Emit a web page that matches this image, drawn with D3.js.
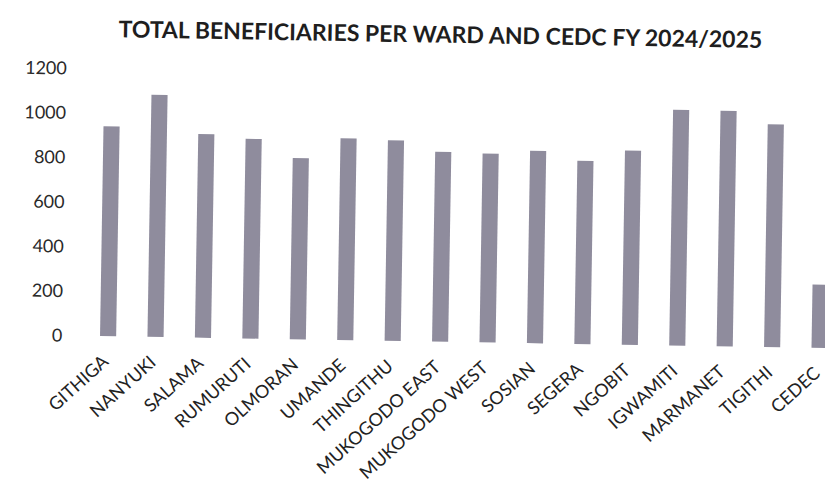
<!DOCTYPE html>
<html>
<head>
<meta charset="utf-8">
<script src="https://cdn.jsdelivr.net/npm/d3@7"></script>
<style>
  body { margin: 0; background: #fff; }
  svg { display: block; }
</style>
</head>
<body>
<div id="chart"></div>
<script>
const wards = ["GITHIGA", "NANYUKI", "SALAMA", "RUMURUTI", "OLMORAN", "UMANDE", "THINGITHU",
  "MUKOGODO EAST", "MUKOGODO WEST", "SOSIAN", "SEGERA", "NGOBIT", "IGWAMITI", "MARMANET",
  "TIGITHI", "CEDEC"];
const beneficiaries = [942, 1087, 914, 896, 814, 906, 900, 852, 848, 864, 822, 872, 1058, 1058, 1000, 284];
const yTicks = [0, 200, 400, 600, 800, 1000, 1200];
const title = "TOTAL BENEFICIARIES PER WARD AND CEDC FY 2024/2025";

const width = 825, height = 485;

const svg = d3.select("#chart")
  .append("svg")
    .attr("width", width)
    .attr("height", height);

// the scanned page is slightly tilted clockwise
const g = svg.append("g")
  .attr("transform", "rotate(0.95, 400, 240)");

const x = d3.scaleBand()
  .domain(wards)
  .range([86, 845])
  .paddingInner(0.66)
  .paddingOuter(0.33);

const y = d3.scaleLinear()
  .domain([0, 1200])
  .range([341, 73.7]);

// title
g.append("text")
  .attr("x", 437)
  .attr("y", 42)
  .attr("text-anchor", "middle")
  .style("font-family", "Lato, 'Open Sans', sans-serif")
  .style("font-weight", "bold")
  .style("font-size", "23px")
  .style("fill", "#1e1e1e")
  .text(title);

// y axis (labels only)
const yAxis = g.append("g")
  .attr("transform", "translate(64,0)")
  .call(d3.axisLeft(y).tickValues(yTicks).tickFormat(d3.format("d")).tickSize(0).tickPadding(0));
yAxis.select(".domain").remove();
yAxis.selectAll("text")
  .style("font-family", "Lato, 'Open Sans', sans-serif")
  .style("font-size", "18px")
  .style("fill", "#2a2a2a");

// bars
g.append("g")
  .selectAll("rect")
  .data(wards)
  .join("rect")
    .attr("x", d => x(d))
    .attr("width", x.bandwidth())
    .attr("y", (d, i) => y(beneficiaries[i]))
    .attr("height", (d, i) => y(0) - y(beneficiaries[i]))
    .attr("fill", "#8f8c9d");

// x axis labels, slanted
const xAxis = g.append("g")
  .attr("transform", "translate(0,350)")
  .call(d3.axisBottom(x).tickSize(0).tickPadding(0));
xAxis.select(".domain").remove();
xAxis.selectAll("text")
  .attr("text-anchor", "end")
  .attr("dy", null)
  .attr("transform", "translate(2,18) rotate(-43)")
  .style("font-family", "Lato, 'Open Sans', sans-serif")
  .style("font-size", "18px")
  .style("fill", "#222");
</script>
</body>
</html>
